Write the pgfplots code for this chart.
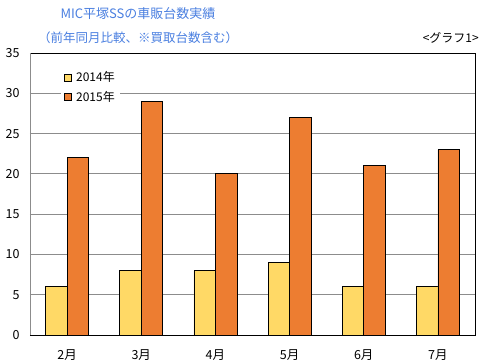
\documentclass[border=0pt]{standalone}
\usepackage{pgfplots}
\pgfplotsset{compat=1.18}
\usepackage{fontspec}
\setmainfont{Noto Sans CJK JP}
\definecolor{c14}{HTML}{FFD966}
\definecolor{c15}{HTML}{ED7D31}
\definecolor{ttl}{HTML}{4A7FE0}
\begin{document}
\begin{tikzpicture}
\useasboundingbox (0bp,0bp) rectangle (500bp,363bp);
\node[anchor=center,text=ttl,font=\fontsize{13bp}{15bp}\selectfont] at (138bp,349bp) {MIC平塚SSの車販台数実績};
\node[anchor=west,text=ttl,font=\fontsize{12.5bp}{15bp}\selectfont,inner sep=0pt] at (38bp,325bp) {（前年同月比較、※買取台数含む）};
\node[anchor=east,font=\fontsize{12bp}{15bp}\selectfont,inner sep=0pt] at (479bp,325bp) {<グラフ1>};
\begin{axis}[
  at={(30bp,28bp)}, anchor=south west,
  scale only axis, width=445bp, height=282bp,
  ybar=0pt, bar width=21.5bp,
  xmin=-0.5, xmax=5.5, ymin=0, ymax=35,
  xtick={0,...,5}, xticklabels={2月,3月,4月,5月,6月,7月},
  ytick={0,5,...,35},
  major tick length=0pt,
  ymajorgrids, grid style={color=gray!90, line width=0.8pt},
  axis line style={black, line width=0.8pt},
  tick label style={font=\fontsize{12.5bp}{14bp}\selectfont},
  /pgf/number format/assume math mode=true,
  yticklabel style={xshift=-7bp},
  xticklabel style={yshift=-11bp},
  legend style={at={(0.07,0.952)}, anchor=north west, draw=none, fill=white,
    font=\fontsize{12bp}{14bp}\selectfont, row sep=4bp, inner sep=3bp},
  legend cell align=left,
  legend image code/.code={\draw[#1, draw=black] (0bp,-3.5bp) rectangle (7bp,3.5bp);},
  every axis plot/.append style={draw=black, line width=0.8pt},
]
\addplot[fill=c14] coordinates {(0,6) (1,8) (2,8) (3,9) (4,6) (5,6)};
\addplot[fill=c15] coordinates {(0,22) (1,29) (2,20) (3,27) (4,21) (5,23)};
\legend{\,2014年,\,2015年}
\draw[gray!90, line width=1pt] (axis cs:-0.5,0) -- (axis cs:-0.5,35);
\draw[gray!50, line width=1pt] (axis cs:-0.5,0) -- (axis cs:5.5,0);
\end{axis}
\end{tikzpicture}
\end{document}
